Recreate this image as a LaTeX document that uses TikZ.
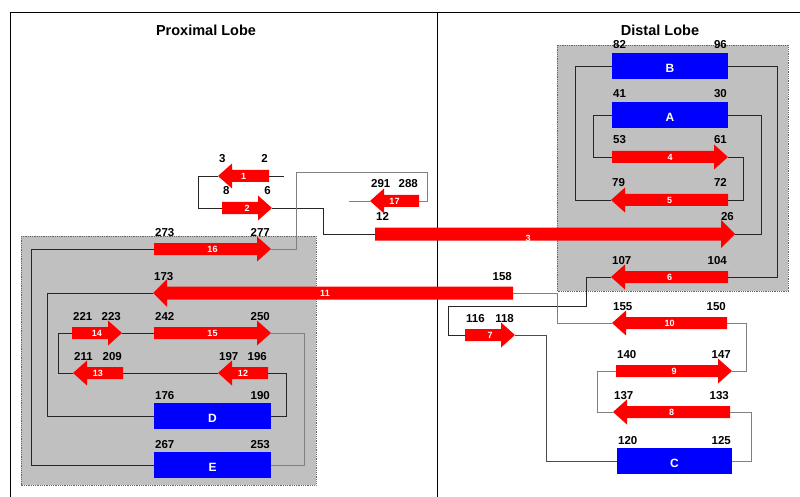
\documentclass[tikz,border=0pt]{standalone}
\usepackage{fontspec}
\setmainfont{Liberation Sans}
\usetikzlibrary{fit}
\definecolor{gred}{RGB}{255,0,0}
\definecolor{gblue}{RGB}{0,0,255}
\definecolor{lobegray}{RGB}{192,192,192}
\pgfdeclarelayer{back}
\pgfdeclarelayer{wires}
\pgfsetlayers{back,wires,main}

% half heights of arrow body and arrow head
\newcommand\arrbody{6}
\newcommand\arrhead{12.5}

% block arrow: [label opts]{name}{tail x}{tip x}{y}{label}{left number}{right number}
\newcommand\garrow[8][]{%
  \pgfmathsetmacro\headx{#4-14*sign(#4-#3)}%
  \pgfmathsetmacro\lowx{min(#3,#4)}%
  \pgfmathsetmacro\highx{max(#3,#4)}%
  \node[fit={(#3,#5-\arrhead) (#4,#5+\arrhead)}, inner sep=0pt] (#2) {};
  \fill[gred] (#3,#5-\arrbody) -- (\headx,#5-\arrbody) -- (\headx,#5-\arrhead)
     -- (#4,#5) -- (\headx,#5+\arrhead) -- (\headx,#5+\arrbody) -- (#3,#5+\arrbody) -- cycle;
  \node[inlab,#1] (#2-n) at ({(#3+#4)/2},#5) {#6};
  \node[num, anchor=base west] (#2-l) at (\lowx+1,#5-13) {#7};
  \node[num, anchor=base east] (#2-r) at (\highx-1,#5-13) {#8};
}

% blue box: {name}{left x}{right x}{y}{letter}{left number}{right number}
\newcommand\gbox[7]{%
  \node[fit={(#2,#4-13) (#3,#4+13)}, inner sep=0pt, fill=gblue] (#1) {};
  \node[boxlab] (#1-n) at ([yshift=-2pt]#1.center) {#5};
  \node[num, anchor=base west] (#1-l) at (#2+1,#4-17) {#6};
  \node[num, anchor=base east] (#1-r) at (#3-1,#4-17) {#7};
}

\tikzset{
  num/.style={font=\fontsize{11.5}{12}\selectfont\bfseries, inner sep=0pt, text=black},
  inlab/.style={font=\fontsize{9}{10}\selectfont\bfseries, text=white, inner sep=0pt},
  boxlab/.style={font=\fontsize{12}{13}\selectfont\bfseries, text=white, inner sep=0pt},
  title/.style={font=\fontsize{14.5}{16}\selectfont\bfseries, inner sep=0pt},
  wire/.style={line width=0.8pt, black!85},
  wireg/.style={line width=0.8pt, black!50},
  lobe/.style={fill=lobegray, draw=black!60, densely dotted, line width=0.8pt},
}

\begin{document}
\begin{tikzpicture}[x=1pt, y=-1pt]
\useasboundingbox (0,0) rectangle (800,497);

% frame and lobe divider
\draw[line width=0.8pt] (10,497) -- (10,12) -- (800,12);
\draw[line width=0.8pt] (437,12) -- (437,497);
\node[title] (tprox) at (206,30) {Proximal Lobe};
\node[title] (tdist) at (660,30) {Distal Lobe};

% shaded domains
\begin{pgfonlayer}{back}
  \draw[lobe] (21,236) rectangle (316,485);
  \draw[lobe] (557,45) rectangle (788,291);
\end{pgfonlayer}

% strands
\garrow{a1}{269}{218}{176}{1}{3}{2}
\garrow{a2}{222}{272}{208}{2}{8}{6}
\begingroup
\renewcommand\arrbody{6.5}\renewcommand\arrhead{14}
\garrow[xshift=-27pt, yshift=-4pt]{a3}{375}{735}{234}{3}{12}{26}
\garrow[xshift=-8pt]{a11}{513}{153}{293}{11}{173}{158}
\endgroup
\garrow{a4}{612}{728}{157}{4}{53}{61}
\garrow{a5}{728}{611}{200}{5}{79}{72}
\garrow{a6}{728}{611}{277}{6}{107}{104}
\garrow{a7}{465}{515}{335}{7}{116}{118}
\garrow{a8}{730}{613}{412}{8}{137}{133}
\garrow{a9}{616}{732}{371}{9}{140}{147}
\garrow{a10}{727}{612}{323}{10}{155}{150}
\garrow{a12}{268}{218}{373}{12}{197}{196}
\garrow{a13}{123}{73}{373}{13}{211}{209}
\garrow{a14}{72}{122}{333}{14}{221}{223}
\garrow{a15}{154}{271}{333}{15}{242}{250}
\garrow{a16}{154}{271}{249}{16}{273}{277}
\garrow{a17}{419}{370}{201}{17}{291}{288}

% helices
\gbox{hB}{612}{728}{66}{B}{82}{96}
\gbox{hA}{612}{728}{115}{A}{41}{30}
\gbox{hC}{617}{732}{461}{C}{120}{125}
\gbox{hD}{154}{271}{416}{D}{176}{190}
\gbox{hE}{154}{271}{465}{E}{267}{253}

\coordinate (a1-end) at (284,176);
\coordinate (a17-end) at (349,201);

% chain connections
\begin{pgfonlayer}{wires}
  \draw[wire] (a1.east) -- (a1-end);
  \draw[wire] (a1.west) -- ++(-19,0) |- (a2.west);
  \draw[wire] (a2.east) -- ++(51,0) |- (a3.west);
  \draw[wire] (a3.east) -- ++(26,0) |- (hA.east);
  \draw[wire] (hA.west) -- ++(-18,0) |- (a4.west);
  \draw[wire] (a4.east) -- ++(15,0) |- (a5.east);
  \draw[wire] (a5.west) -- ++(-35,0) |- (hB.west);
  \draw[wire] (hB.east) -- ++(49,0) |- (a6.east);
  \draw[wire] (a6.west) -- ++(-24,0) -- ++(0,29) -| ([xshift=-16pt]a7.west) -- (a7.west);
  \draw[wire, black!70] (a7.east) -- ++(31,0) |- (hC.west);
  \draw[wireg] (hC.east) -- ++(19,0) |- (a8.east);
  \draw[wireg] (a8.west) -- ++(-15,0) |- (a9.west);
  \draw[wireg] (a9.east) -- ++(14,0) |- (a10.east);
  \draw[wireg] (a10.west) -- ++(-54,0) |- (a11.east);
  \draw[wire] (a11.west) -- ++(-105,0) |- (hD.west);
  \draw[wire] (hD.east) -- ++(15,0) |- (a12.east);
  \draw[wire] (a12.west) -- (a13.east);
  \draw[wire] (a13.west) -- ++(-14,0) |- (a14.west);
  \draw[wire] (a14.east) -- (a15.west);
  \draw[wireg] (a15.east) -- ++(33,0) |- (hE.east);
  \draw[wire] (hE.west) -- ++(-122,0) |- (a16.west);
  \draw[wireg] (a16.east) -- ++(25,0) -- ++(0,-77) -| ([xshift=8pt]a17.east) -- (a17.east);
  \draw[wireg] (a17.west) -- (a17-end);
\end{pgfonlayer}
\end{tikzpicture}
\end{document}
